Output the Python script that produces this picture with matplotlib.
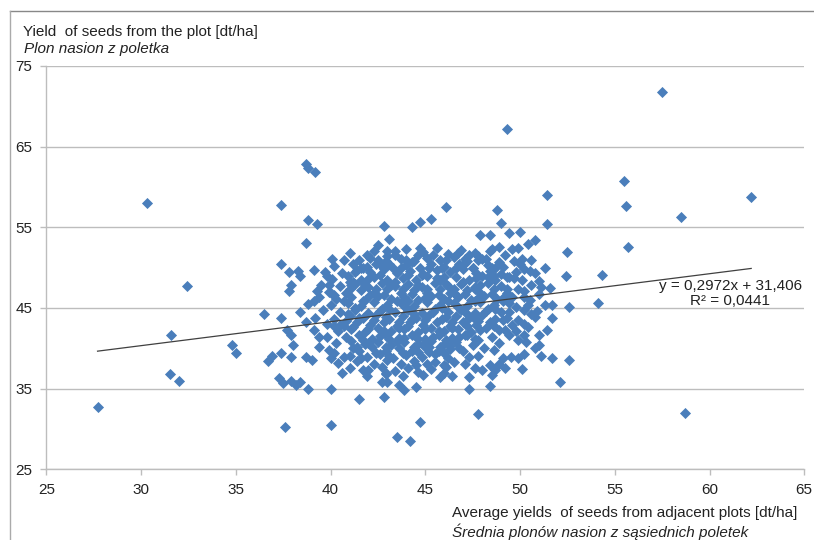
import matplotlib
matplotlib.use("Agg")
import matplotlib.pyplot as plt
from matplotlib.lines import Line2D

plt.rcParams['font.family'] = ['Liberation Sans', 'DejaVu Sans']

# sparse points around the cloud (avg of adjacent plots, plot yield)
outer_points = [
    (27.7, 32.7), (30.3, 58.0), (31.6, 41.6), (31.5, 36.8), (32.0, 36.0), (32.4, 47.7),
    (34.8, 40.4), (35.0, 39.4), (36.5, 44.3), (36.9, 39.1), (36.7, 38.4),
    (37.4, 57.8), (37.4, 50.4), (37.8, 49.4), (37.9, 47.8), (37.8, 47.1), (38.3, 49.6),
    (37.4, 43.7), (37.7, 42.2), (37.9, 41.6), (38.0, 40.4), (37.4, 39.4), (37.9, 38.9),
    (37.3, 36.3), (37.5, 35.7), (37.9, 36.0), (38.2, 35.5), (37.6, 30.2),
    (38.7, 62.8), (38.8, 62.3), (39.2, 61.9), (38.8, 55.9), (39.3, 55.4), (38.7, 53.1),
    (40.1, 51.1), (39.1, 49.7), (38.4, 49.0), (39.8, 49.0), (39.9, 47.8), (39.3, 47.1),
    (40.0, 46.8), (41.2, 48.2), (41.1, 47.8), (41.7, 50.0), (41.3, 49.4),
    (38.7, 43.3), (40.2, 42.8), (39.4, 41.4), (39.8, 41.4), (39.4, 40.1), (38.7, 38.9),
    (40.2, 39.4), (40.0, 38.8), (40.7, 38.9), (41.2, 40.0), (41.6, 38.8), (41.7, 37.3),
    (40.6, 36.9), (38.4, 35.8), (38.8, 35.0), (40.0, 35.0), (41.5, 33.7), (42.8, 34.0),
    (42.7, 35.8), (43.0, 35.8), (42.9, 36.9), (43.6, 35.4), (40.0, 30.5), (39.0, 38.5),
    (38.4, 44.5), (39.1, 45.9),
    (42.8, 55.1), (43.1, 53.6), (42.5, 52.8), (43.0, 52.1), (43.4, 52.1), (42.4, 50.5),
    (42.6, 50.5), (43.1, 50.5),
    (46.1, 57.5), (48.8, 57.1), (49.0, 55.5), (44.3, 55.0), (44.7, 55.6), (45.3, 56.0),
    (47.9, 54.0), (48.4, 54.0), (48.9, 52.5), (44.7, 52.4), (48.4, 52.1), (46.7, 51.8),
    (47.8, 51.0), (47.1, 51.1), (48.2, 51.1), (48.5, 50.0), (47.5, 49.9), (48.3, 48.8),
    (49.4, 54.3), (50.0, 54.4), (51.4, 55.4), (49.6, 52.3), (49.9, 52.4), (50.4, 52.9),
    (50.8, 53.4), (52.5, 51.9), (49.7, 50.8), (50.1, 51.1), (49.8, 49.4), (50.2, 49.8),
    (50.8, 49.3), (49.3, 48.8), (49.7, 48.7), (52.4, 49.0), (49.9, 47.4), (51.1, 47.6),
    (49.1, 46.2), (50.2, 46.3), (50.4, 45.3), (51.3, 45.3), (52.6, 45.1), (54.1, 45.6),
    (54.3, 49.1),
    (47.2, 41.6), (47.8, 41.0), (47.3, 38.9), (46.8, 40.0), (48.1, 40.0), (48.4, 37.9),
    (48.0, 37.3), (48.7, 37.3), (47.3, 36.4), (44.5, 37.9), (44.6, 37.0), (46.0, 36.9),
    (45.8, 36.4), (44.5, 35.2), (43.9, 34.8), (47.3, 34.9), (48.4, 35.3), (45.5, 38.3),
    (45.2, 40.1), (46.0, 37.9),
    (49.4, 44.5), (50.2, 44.8), (50.9, 44.6), (51.7, 43.8), (49.1, 43.5), (49.9, 43.5),
    (50.2, 43.0), (50.4, 42.6), (49.2, 42.2), (49.4, 41.6), (49.8, 42.1), (50.2, 41.6),
    (51.0, 41.6), (51.0, 40.4), (50.8, 40.0), (51.1, 39.1), (49.9, 38.8), (51.7, 38.8),
    (52.6, 38.5), (49.1, 38.8), (49.2, 37.6), (52.1, 35.8),
    (43.5, 29.0), (44.2, 28.5), (44.7, 30.8), (47.8, 31.9), (49.3, 67.2), (51.4, 59.0),
    (57.5, 71.8), (62.2, 58.8), (58.5, 56.3), (58.7, 32.0), (55.5, 60.7), (55.6, 57.6),
    (55.7, 52.5),
]

# dense core of the cloud
core_points = [
    (41.0, 51.8), (42.3, 52.0), (43.4, 51.6), (44.0, 52.3), (44.9, 51.9), (45.6, 52.4),
    (46.2, 51.7), (46.9, 52.2), (47.6, 51.8), (48.5, 52.3), (49.2, 51.6),
    (40.7, 51.0), (41.5, 50.9), (42.1, 51.2), (42.9, 50.8), (43.7, 51.1), (44.3, 50.7),
    (45.1, 51.2), (45.8, 50.9), (46.5, 51.3), (47.2, 50.8), (48.0, 51.1), (48.9, 50.7),
    (50.6, 50.9),
    (40.2, 50.2), (41.2, 50.4), (41.9, 50.1), (42.6, 50.4), (43.3, 50.0), (44.0, 50.3),
    (44.7, 50.0), (45.3, 50.5), (46.0, 50.1), (46.8, 50.4), (47.5, 50.0), (48.3, 50.3),
    (49.1, 50.1), (50.0, 50.4),
    (39.7, 49.5), (40.6, 49.3), (41.4, 49.7), (42.1, 49.4), (42.8, 49.8), (43.5, 49.3),
    (44.2, 49.6), (44.9, 49.2), (45.6, 49.7), (46.3, 49.4), (47.0, 49.8), (47.7, 49.3),
    (48.4, 49.6), (49.0, 49.2), (50.5, 49.6), (51.3, 49.9),
    (40.1, 48.6), (40.9, 48.9), (41.6, 48.5), (42.3, 48.8), (43.0, 48.4), (43.8, 48.7),
    (44.5, 48.5), (45.1, 48.9), (45.8, 48.4), (46.6, 48.8), (47.3, 48.5), (48.0, 48.9),
    (48.7, 48.4), (49.4, 48.8), (50.1, 48.5), (51.0, 48.3),
    (39.5, 47.9), (40.5, 47.7), (41.3, 48.0), (42.0, 47.6), (42.7, 48.1), (43.4, 47.7),
    (44.1, 48.0), (44.8, 47.6), (45.5, 48.1), (46.2, 47.7), (46.9, 48.0), (47.6, 47.6),
    (48.3, 48.1), (49.0, 47.7), (50.6, 47.9), (51.6, 47.5),
    (39.9, 47.0), (40.8, 46.9), (41.6, 47.2), (42.3, 46.8), (43.0, 47.3), (43.7, 46.9),
    (44.4, 47.2), (45.1, 46.8), (45.8, 47.3), (46.5, 46.9), (47.2, 47.2), (47.9, 46.8),
    (48.6, 47.3), (49.3, 46.9), (50.2, 47.1), (51.0, 46.7),
    (39.4, 46.3), (40.3, 46.1), (41.1, 46.4), (41.8, 46.0), (42.5, 46.5), (43.2, 46.1),
    (43.9, 46.4), (44.6, 46.0), (45.3, 46.5), (46.0, 46.1), (46.7, 46.4), (47.4, 46.0),
    (48.1, 46.5), (48.8, 46.1), (49.6, 46.4), (50.5, 46.0),
    (38.8, 45.5), (40.0, 45.3), (40.9, 45.6), (41.6, 45.2), (42.3, 45.7), (43.0, 45.3),
    (43.7, 45.6), (44.4, 45.2), (45.1, 45.7), (45.8, 45.3), (46.5, 45.6), (47.2, 45.2),
    (47.9, 45.7), (48.6, 45.3), (49.4, 45.6), (51.7, 45.4),
    (39.6, 44.7), (40.5, 44.5), (41.3, 44.8), (42.0, 44.4), (42.7, 44.9), (43.4, 44.5),
    (44.1, 44.8), (44.8, 44.4), (45.5, 44.9), (46.2, 44.5), (46.9, 44.8), (47.6, 44.4),
    (48.3, 44.9), (49.0, 44.5), (50.6, 44.2),
    (39.2, 43.8), (40.2, 43.6), (41.0, 44.0), (41.7, 43.7), (42.4, 44.1), (43.1, 43.6),
    (43.8, 44.0), (44.5, 43.7), (45.2, 44.1), (45.9, 43.6), (46.6, 44.0), (47.3, 43.7),
    (48.0, 44.1), (48.7, 43.6), (50.8, 43.9),
    (39.8, 43.0), (40.7, 42.8), (41.4, 43.2), (42.1, 42.9), (42.8, 43.3), (43.5, 42.8),
    (44.2, 43.2), (44.9, 42.9), (45.6, 43.3), (46.3, 42.8), (47.0, 43.2), (47.7, 42.9),
    (48.4, 43.3), (49.6, 42.9),
    (39.1, 42.3), (40.4, 42.1), (41.1, 42.4), (41.8, 42.0), (42.5, 42.5), (43.2, 42.1),
    (43.9, 42.4), (44.6, 42.0), (45.3, 42.5), (46.0, 42.1), (46.7, 42.4), (47.4, 42.0),
    (48.2, 42.5), (48.9, 42.2), (51.4, 42.3),
    (40.8, 41.4), (41.5, 41.7), (42.2, 41.2), (42.9, 41.6), (43.6, 41.3), (44.3, 41.7),
    (45.0, 41.2), (45.7, 41.6), (46.4, 41.3), (47.1, 41.7), (48.5, 41.4), (49.9, 41.0),
    (40.3, 40.6), (41.1, 40.9), (41.8, 40.5), (42.5, 40.8), (43.2, 40.4), (43.9, 40.8),
    (44.6, 40.5), (45.3, 40.9), (46.0, 40.5), (46.6, 40.8), (47.5, 40.4), (48.9, 40.6),
    (50.3, 40.8),
    (39.9, 39.8), (41.5, 39.7), (42.2, 40.1), (42.9, 39.6), (43.6, 40.0), (44.3, 39.7),
    (45.0, 40.1), (45.7, 39.6), (46.3, 39.9), (47.0, 39.6), (48.6, 39.8), (50.2, 39.3),
    (41.0, 39.1), (41.9, 38.9), (42.6, 39.3), (43.3, 38.8), (44.0, 39.2), (44.8, 38.9),
    (45.5, 39.3), (46.2, 38.8), (47.8, 39.0), (49.5, 38.9),
    (40.4, 38.2), (41.4, 38.4), (42.3, 38.0), (43.0, 38.5), (43.7, 38.1), (44.4, 38.4),
    (45.1, 38.0), (46.5, 38.3), (47.1, 38.1), (48.9, 38.0),
    (41.0, 37.5), (42.0, 37.3), (42.7, 37.7), (43.4, 37.2), (44.1, 37.6), (45.3, 37.4),
    (46.1, 37.7), (47.6, 37.5), (50.1, 37.4),
    (41.9, 36.6), (42.9, 36.8), (43.8, 36.5), (44.9, 36.7), (46.4, 36.5), (48.5, 36.7),
    (41.9, 51.5), (43.0, 51.4), (44.6, 51.5), (46.1, 51.0), (47.8, 51.4),
    (41.6, 49.9), (42.9, 50.6), (44.4, 50.8), (45.9, 49.9), (47.1, 50.6), (48.7, 49.9),
    (41.0, 48.2), (42.6, 49.1), (43.4, 48.2), (44.8, 49.1), (46.0, 48.8), (47.0, 48.2),
    (48.6, 48.9),
    (41.0, 47.4), (42.4, 47.3), (43.8, 47.4), (45.1, 47.3), (46.5, 47.4), (47.6, 47.3),
    (49.3, 47.4),
    (40.7, 45.9), (42.1, 46.6), (43.5, 45.9), (45.0, 46.2), (46.3, 46.8), (47.8, 46.2),
    (49.1, 45.8),
    (41.3, 45.0), (42.6, 44.6), (44.0, 45.0), (45.4, 44.5), (46.8, 45.0), (48.2, 44.6),
    (49.8, 45.1),
    (40.8, 43.4), (42.3, 43.5), (43.6, 43.3), (45.0, 43.5), (46.4, 43.3), (47.8, 43.4),
    (49.3, 43.8),
    (41.2, 42.6), (42.8, 42.1), (44.1, 42.7), (45.7, 42.1), (47.2, 42.7), (48.6, 42.7),
    (41.7, 41.0), (43.1, 41.1), (44.6, 41.1), (46.1, 41.0), (47.6, 41.1),
    (41.4, 40.2), (42.9, 40.2), (44.4, 40.2), (45.8, 40.2),
    (42.4, 39.4), (43.8, 39.4), (45.2, 39.5),
    (42.5, 51.0), (44.0, 51.0), (45.4, 51.6), (47.3, 51.5), (43.7, 49.9), (45.2, 50.0),
    (46.6, 49.9), (42.0, 48.6), (44.1, 49.1), (45.6, 48.7), (47.7, 48.7), (41.8, 47.9),
    (43.2, 47.9), (44.6, 47.9), (46.1, 48.0), (47.9, 47.9), (40.2, 46.6), (42.8, 46.6),
    (44.3, 46.7), (45.7, 46.6), (47.1, 46.7), (48.5, 46.7), (41.7, 45.8), (44.1, 45.9),
    (46.2, 45.9), (47.6, 45.9), (40.9, 44.3), (43.1, 44.9), (44.4, 44.2), (45.9, 45.0),
    (47.2, 44.3), (48.7, 44.9), (41.5, 43.8), (42.9, 43.9), (44.3, 43.6), (46.1, 43.9),
    (47.5, 43.9), (40.5, 42.9), (42.0, 42.4), (43.6, 42.5), (45.0, 42.4), (46.4, 42.5),
    (47.9, 42.3), (42.6, 41.5), (43.9, 41.3), (45.4, 41.4), (46.8, 41.4), (42.0, 40.7),
    (43.5, 40.9), (45.0, 40.7), (46.3, 40.3), (43.1, 39.0), (44.6, 39.5), (46.0, 39.4),
]

slope = 0.2972
intercept = 31.406
r2_text = "0,0441"

x_ticks = [25, 30, 35, 40, 45, 50, 55, 60, 65]
y_ticks = [25, 35, 45, 55, 65, 75]

points = outer_points + core_points
xs = [p[0] for p in points]
ys = [p[1] for p in points]

fig = plt.figure(figsize=(8.14, 5.40), dpi=100)
ax = fig.add_axes([0.057, 0.131, 0.931, 0.747])

ax.scatter(xs, ys, marker='D', s=32, color='#4a7ebb', linewidths=0, zorder=3)

# linear trendline over the data range
x_lo, x_hi = min(xs), max(xs)
ax.plot([x_lo, x_hi], [slope * x_lo + intercept, slope * x_hi + intercept],
        color='#404040', lw=0.9, zorder=4)
ax.text(61.1, 46.8, "y = 0,2972x + 31,406\nR² = " + r2_text, ha='center', va='center',
        fontsize=11, color='#222222', linespacing=1.1, zorder=5)

ax.set_xlim(25, 65)
ax.set_ylim(25, 75)
ax.set_xticks(x_ticks)
ax.set_yticks(y_ticks)
ax.yaxis.grid(True, color='#bdbdbd', lw=1)
ax.set_axisbelow(True)
for s in ['top', 'right']:
    ax.spines[s].set_visible(False)
for s in ['left', 'bottom']:
    ax.spines[s].set_color('#bdbdbd')
    ax.spines[s].set_linewidth(1)
ax.tick_params(axis='both', colors='#bdbdbd', labelcolor='#222222', labelsize=11,
               length=4, width=1)
ax.tick_params(axis='y', pad=6)
ax.tick_params(axis='x', pad=6)

fig.text(0.028, 0.941, "Yield  of seeds from the plot [dt/ha]", fontsize=11, color='#222222',
         va='center')
fig.text(0.029, 0.909, "Plon nasion z poletka", fontsize=11, style='italic',
         color='#222222', va='center')
fig.text(0.555, 0.050, "Average yields  of seeds from adjacent plots [dt/ha]", fontsize=11,
         color='#222222', ha='left', va='center')
fig.text(0.555, 0.015, "Średnia plonów nasion z sąsiednich poletek", fontsize=11,
         style='italic', color='#222222', ha='left', va='center')

# outer frame lines
fig.add_artist(Line2D([0.012, 1.0], [0.979, 0.979], color='#888888', lw=1))
fig.add_artist(Line2D([0.012, 0.012], [0.0, 0.979], color='#aaaaaa', lw=1))

fig.savefig("out.png", dpi=100)
